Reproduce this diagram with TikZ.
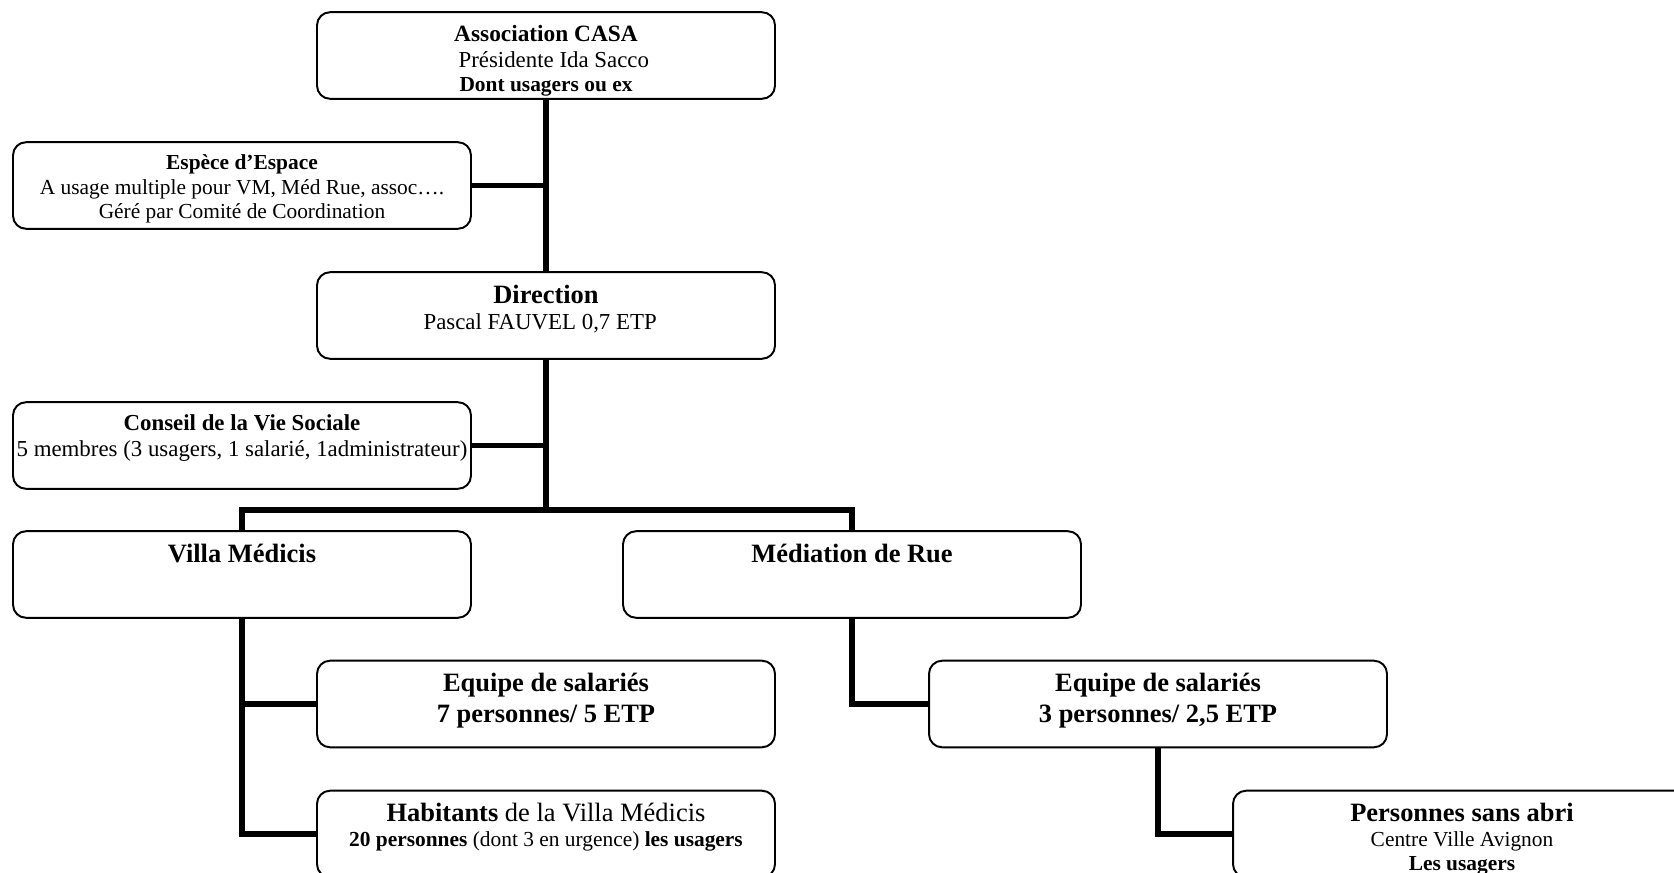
\documentclass[tikz,border=0pt]{standalone}
\usepackage{fontspec}
\setmainfont{Liberation Serif}
\newcommand{\tsmall}{\fontsize{11}{12.6}\selectfont}
\newcommand{\tmid}{\fontsize{11.75}{13.5}\selectfont}
\newcommand{\tbig}{\fontsize{13.6}{15.6}\selectfont}
\newcommand{\boxtxt}[1]{\parbox[c][44.5pt][t]{235.4pt}{\centering\vspace*{6.5pt}#1}}
\tikzset{
	orgbox/.style={draw, line width=1pt, rounded corners=6.7pt, inner sep=0pt, fill=white},
	link/.style={line width=2.6pt}
}
\begin{document}
\begin{tikzpicture}[x=0.514pt, y=-0.514pt]
	\clip (0,0) rectangle (1674,873);
	% top of the chart
	\node[orgbox] (casa) at (546,55.5) {\boxtxt{{\fontsize{12}{13.8}\selectfont\textbf{Association CASA}\par}{\tmid\hspace*{8pt}Présidente Ida Sacco\par}{\tsmall\textbf{Dont usagers ou ex}\par}}};
	\node[orgbox] (espece) at (242,185.5) {\boxtxt{{\tsmall\textbf{Espèce d’Espace}\par A usage multiple pour VM, Méd Rue, assoc….\par Géré par Comité de Coordination\par}}};
	\node[orgbox] (direction) at (546,315.5) {\boxtxt{{\tbig\textbf{Direction}\par}{\tmid Pascal FAUVEL 0,7 ETP\hspace*{6pt}\par}}};
	\node[orgbox] (conseil) at (242,445.5) {\boxtxt{{\tmid\textbf{Conseil de la Vie Sociale}\par 5 membres (3 usagers, 1 salarié, 1administrateur)\par}}};
	\coordinate (fork) at (546,510);
	% the two services
	\node[orgbox] (villa) at (242,574.5) {\boxtxt{{\tbig\textbf{Villa Médicis}\par}}};
	\node[orgbox] (mediation) at (852,574.5) {\boxtxt{{\tbig\textbf{Médiation de Rue}\par}}};
	\node[orgbox] (equipeA) at (546,704) {\boxtxt{{\tbig\textbf{Equipe de salariés}\par\textbf{7 personnes/ 5 ETP}\par}}};
	\node[orgbox] (equipeB) at (1158,704) {\boxtxt{{\tbig\textbf{Equipe de salariés}\par\textbf{3 personnes/ 2,5 ETP}\par}}};
	\node[orgbox] (habitants) at (546,834) {\boxtxt{{\tbig\textbf{Habitants} de la Villa Médicis\par}{\tsmall\textbf{20 personnes} (dont 3 en urgence) \textbf{les usagers}\par}}};
	\node[orgbox] (sansabri) at (1462,834) {\boxtxt{{\tbig\textbf{Personnes sans abri}\par}{\tsmall Centre Ville Avignon\par\textbf{Les usagers}\par}}};
	% connectors
	\draw[link] (casa.south) -- (direction.north);
	\draw[link] (espece.east) -- (espece.east -| casa.south);
	\draw[link] (conseil.east) -- (conseil.east -| direction.south);
	\draw[link] (direction.south) -- (fork);
	\draw[link] (villa.north) |- (fork) -| (mediation.north);
	\draw[link] (villa.south) |- (equipeA.west);
	\draw[link] (villa.south) |- (habitants.west);
	\draw[link] (mediation.south) |- (equipeB.west);
	\draw[link] (equipeB.south) |- (sansabri.west);
\end{tikzpicture}
\end{document}
